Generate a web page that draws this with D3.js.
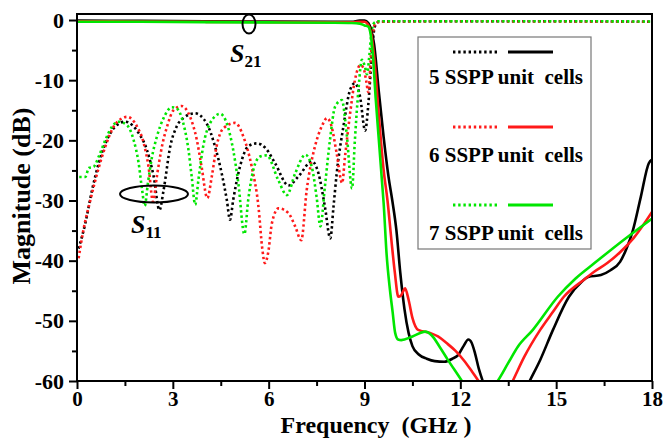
<!DOCTYPE html>
<html><head><meta charset="utf-8">
<script src="https://cdn.jsdelivr.net/npm/d3@7"></script>
<style>
html,body{margin:0;padding:0;background:#fff;}
svg{display:block;font-family:"Liberation Serif","Times New Roman",serif;}
</style></head>
<body><svg id="chart" width="663" height="438"></svg>
<script>
// ---- tick labels ----
const xTicks = [0, 3, 6, 9, 12, 15, 18];
const xMinorTicks = [1.5, 4.5, 7.5, 10.5, 13.5, 16.5];
const yTicks = [0, -10, -20, -30, -40, -50, -60];
const yMinorTicks = [-5, -15, -25, -35, -45, -55];

// ---- legend ----
const legendLabels = ["5 SSPP unit  cells", "6 SSPP unit  cells", "7 SSPP unit  cells"];
const seriesColors = ["#000000", "#ff1a1a", "#00e600"];

// ---- S11 (dotted) [GHz, dB] ----
const s11Cells5 = [[0.05,-38],[0.26,-33.8],[0.47,-28.3],[0.68,-23.8],[0.89,-20.5],[1.2,-17.7],[1.5,-16.9],[1.93,-18.8],[2.19,-21.6],[2.4,-26],[2.58,-31.6],[2.71,-28.3],[2.92,-21],[3.12,-17.7],[3.33,-16.3],[3.69,-15.5],[4.06,-17.2],[4.32,-21],[4.53,-25.5],[4.69,-29.9],[4.79,-33.2],[4.89,-29.9],[5.1,-24.4],[5.36,-21],[5.63,-20.5],[5.92,-21.4],[6.2,-23.8],[6.62,-27.5],[6.93,-26],[7.36,-23.5],[7.56,-25.5],[7.76,-31],[7.93,-36.3],[8.03,-31],[8.13,-25.5],[8.34,-17.7],[8.55,-11.6],[8.7,-10.5],[8.86,-12.7],[9.02,-18.4],[9.12,-14],[9.2,-8],[9.27,-3],[9.33,-1],[9.45,-0.3],[11,-0.2],[14,-0.2],[18,-0.3]];
const s11Cells6 = [[0.05,-39.6],[0.2,-34.9],[0.42,-29.9],[0.63,-25.5],[0.89,-21],[1.2,-17.3],[1.57,-16.1],[1.88,-17.7],[2.09,-20.5],[2.24,-24.4],[2.38,-30.2],[2.5,-26],[2.66,-21],[2.82,-17.7],[3.02,-15],[3.28,-14.3],[3.54,-16.1],[3.75,-19.9],[3.9,-24.4],[4.08,-29.6],[4.22,-26],[4.37,-21],[4.58,-18],[4.95,-17.1],[5.21,-19.4],[5.47,-24.4],[5.68,-31],[5.8,-38],[5.88,-40.4],[5.99,-38.5],[6.1,-33.8],[6.31,-31.3],[6.62,-32.1],[6.83,-34.3],[7.02,-36.6],[7.19,-28.3],[7.45,-21],[7.66,-17.7],[7.83,-16.3],[7.97,-17.7],[8.13,-22.2],[8.3,-27.1],[8.39,-22.7],[8.55,-15.5],[8.7,-10],[8.87,-7.5],[8.97,-8],[9.05,-10],[9.12,-12],[9.2,-6],[9.27,-2],[9.35,-0.5],[9.5,-0.3],[12,-0.2],[15,-0.25],[18,-0.3]];
const s11Cells7 = [[0.07,-26.1],[0.26,-26.1],[0.37,-24.6],[0.52,-24.4],[0.68,-22.7],[0.89,-19.9],[1.1,-17.7],[1.3,-16.9],[1.57,-17.5],[1.77,-19.9],[1.93,-23.8],[2.04,-28.3],[2.12,-30.9],[2.22,-27.1],[2.35,-22.7],[2.5,-19.4],[2.71,-16.3],[2.97,-14.5],[3.12,-14.7],[3.33,-17.2],[3.49,-21.6],[3.59,-26],[3.7,-30.7],[3.8,-26.6],[3.95,-21],[4.16,-17.2],[4.48,-15.6],[4.69,-17.2],[4.89,-21.6],[5.05,-27.1],[5.24,-35.6],[5.36,-29.9],[5.52,-24.9],[5.73,-22.7],[5.94,-22.5],[6.3,-26.6],[6.57,-29.1],[6.83,-25.5],[7.15,-22.4],[7.35,-24.4],[7.5,-29.4],[7.62,-34.3],[7.76,-27.7],[7.92,-19.9],[8.08,-14.4],[8.29,-13.3],[8.44,-18.8],[8.61,-28],[8.7,-19.9],[8.81,-11.6],[8.92,-6.6],[9.0,-7.5],[9.08,-9],[9.15,-6],[9.22,-2],[9.3,-0.5],[9.45,-0.2],[12,-0.2],[15,-0.2],[18,-0.25]];

// ---- S21 (solid) [GHz, dB] ----
const s21Cells5 = [[0,-0.1],[2,-0.15],[4,-0.2],[6,-0.25],[8,-0.3],[8.6,-0.3],[8.85,-0.1],[9.0,-0.1],[9.12,-0.5],[9.2,-1.5],[9.3,-4],[9.45,-12],[9.6,-19.5],[9.75,-26],[9.87,-30],[10.0,-35],[10.12,-42],[10.25,-48],[10.38,-52],[10.5,-54.2],[10.7,-55.6],[10.95,-56.3],[11.2,-56.7],[11.5,-56.8],[11.75,-56.3],[11.93,-55.7],[12.1,-54.2],[12.25,-53.1],[12.35,-53.6],[12.46,-55.4],[12.58,-58],[12.7,-60],[12.85,-63],[13.4,-66],[13.8,-64],[14.17,-60],[14.5,-56.5],[14.9,-51.5],[15.4,-46],[15.8,-43.5],[16.0,-42.7],[16.4,-42.4],[16.7,-41.6],[17.0,-40.2],[17.2,-38],[17.4,-35],[17.65,-29.4],[17.9,-23.8],[18,-23.2]];
const s21Cells6 = [[0,-0.2],[2,-0.25],[4,-0.3],[6,-0.35],[8,-0.4],[8.6,-0.4],[8.85,-0.3],[9.0,-0.3],[9.1,-0.7],[9.2,-2],[9.3,-6],[9.45,-16],[9.6,-25],[9.72,-30],[9.85,-37],[9.95,-42],[10.06,-46],[10.14,-45.8],[10.2,-45.2],[10.27,-44.6],[10.38,-46.5],[10.5,-49.5],[10.68,-51.5],[11.05,-52],[11.3,-52.6],[11.57,-53.7],[11.85,-55],[12.1,-56.5],[12.35,-58.3],[12.57,-60],[12.9,-63],[13.3,-63.5],[13.64,-60],[14.0,-56],[14.5,-51.5],[14.9,-48.5],[15.24,-46],[15.86,-43.2],[16.2,-41.8],[16.6,-40.4],[17.0,-38.6],[17.43,-36.2],[18,-31.9]];
const s21Cells7 = [[0,-0.3],[2,-0.3],[4,-0.35],[6,-0.4],[8,-0.45],[8.6,-0.5],[8.85,-0.6],[9.0,-0.9],[9.12,-1.1],[9.18,-2],[9.25,-5],[9.35,-13],[9.45,-20],[9.55,-27],[9.6,-30.5],[9.69,-38.8],[9.8,-45],[9.88,-48.5],[9.96,-52],[10.05,-53.1],[10.15,-53.2],[10.5,-52.6],[10.9,-51.8],[11.1,-52.4],[11.35,-54.3],[11.6,-56.4],[12.05,-60],[12.4,-63],[12.8,-62.5],[13.17,-60],[13.5,-57],[13.8,-54.3],[14.27,-51.5],[15.05,-46],[15.6,-43],[16.2,-40.4],[17.1,-36.6],[18,-33]];

const s11Series = [s11Cells5, s11Cells6, s11Cells7];
const s21Series = [s21Cells5, s21Cells6, s21Cells7];

// ---- layout ----
const svg = d3.select("#chart");
const L = 77, R = 652, T = 14, B = 381;
const x = d3.scaleLinear().domain([0, 18]).range([L, R]);
const y = d3.scaleLinear().domain([-60, 1]).range([B, T]);

svg.append("defs").append("clipPath").attr("id", "plotclip")
  .append("rect").attr("x", L).attr("y", T).attr("width", R - L).attr("height", B - T);

const line = d3.line().x(d => x(d[0])).y(d => y(d[1])).curve(d3.curveMonotoneX);
const plot = svg.append("g").attr("clip-path", "url(#plotclip)");

// S11 dotted
s11Series.forEach((s, i) => {
  plot.append("path").attr("d", line(s)).attr("fill", "none")
    .attr("stroke", seriesColors[i]).attr("stroke-width", 2.6)
    .attr("stroke-dasharray", "2.4 2.8");
});
// S21 solid
s21Series.forEach((s, i) => {
  plot.append("path").attr("d", line(s)).attr("fill", "none")
    .attr("stroke", seriesColors[i]).attr("stroke-width", 2.6)
    .attr("stroke-linejoin", "round");
});

// axes
const fontTick = "bold 22px 'Liberation Serif','Times New Roman',serif";
const yAxis = svg.append("g").attr("transform", `translate(${L},0)`)
  .call(d3.axisLeft(y).tickValues(yTicks).tickSize(8).tickPadding(5).tickFormat(d3.format("d")));
const yMinor = svg.append("g").attr("transform", `translate(${L},0)`)
  .call(d3.axisLeft(y).tickValues(yMinorTicks).tickSize(5).tickFormat(""));
const xAxis = svg.append("g").attr("transform", `translate(0,${B})`)
  .call(d3.axisBottom(x).tickValues(xTicks).tickSize(8).tickPadding(2.5).tickFormat(d3.format("d")));
const xMinor = svg.append("g").attr("transform", `translate(0,${B})`)
  .call(d3.axisBottom(x).tickValues(xMinorTicks).tickSize(5).tickFormat(""));
[yAxis, yMinor, xAxis, xMinor].forEach(g => {
  g.select(".domain").remove();
  g.selectAll(".tick line").attr("stroke", "#000").attr("stroke-width", 2);
  g.selectAll(".tick text").style("font", fontTick).attr("fill", "#000");
});
xAxis.selectAll(".tick text").style("font-size", "21px");
yAxis.selectAll(".tick text").text(d => d === 0 ? "0" : String(d));

// frame
svg.append("rect").attr("x", L).attr("y", T).attr("width", R - L).attr("height", B - T)
  .attr("fill", "none").attr("stroke", "#000").attr("stroke-width", 2);

// axis titles
svg.append("text").attr("x", 376).attr("y", 432.5).attr("text-anchor", "middle")
  .style("font", "bold 24px 'Liberation Serif','Times New Roman',serif")
  .style("white-space", "pre").text("Frequency  (GHz )");
svg.append("text").attr("transform", "translate(30,196) rotate(-90)").attr("text-anchor", "middle")
  .style("font", "bold 26px 'Liberation Serif','Times New Roman',serif")
  .text("Magnitude (dB)");

// legend
const lg = svg.append("g");
lg.append("rect").attr("x", 418).attr("y", 37).attr("width", 173).attr("height", 212)
  .attr("fill", "#fff").attr("stroke", "#777").attr("stroke-width", 1.2);
const legY = [52, 127, 205];
const legTextY = [84, 162, 240];
legendLabels.forEach((lab, i) => {
  lg.append("line").attr("x1", 453).attr("x2", 498).attr("y1", legY[i]).attr("y2", legY[i])
    .attr("stroke", seriesColors[i]).attr("stroke-width", 2.8).attr("stroke-dasharray", "2.4 2.8");
  lg.append("line").attr("x1", 508).attr("x2", 553).attr("y1", legY[i]).attr("y2", legY[i])
    .attr("stroke", seriesColors[i]).attr("stroke-width", 3.2);
  lg.append("text").attr("x", 506).attr("y", legTextY[i]).attr("text-anchor", "middle")
    .style("font", "bold 21px 'Liberation Serif','Times New Roman',serif")
    .style("white-space", "pre").text(lab);
});

// annotations
svg.append("ellipse").attr("cx", 249).attr("cy", 24).attr("rx", 6.5).attr("ry", 9.5)
  .attr("fill", "none").attr("stroke", "#000").attr("stroke-width", 2);
svg.append("ellipse").attr("cx", 154).attr("cy", 194).attr("rx", 34).attr("ry", 8.5)
  .attr("fill", "none").attr("stroke", "#000").attr("stroke-width", 2);

function sLabel(xp, yp, sub) {
  const t = svg.append("text").attr("x", xp).attr("y", yp)
    .style("font", "bold italic 26px 'Liberation Serif','Times New Roman',serif");
  t.append("tspan").text("S");
  t.append("tspan").attr("dy", 5).style("font", "bold 17px 'Liberation Serif','Times New Roman',serif")
    .style("font-style", "normal").text(sub);
}
sLabel(230, 62, "21");
sLabel(131, 233, "11");
</script></body></html>
